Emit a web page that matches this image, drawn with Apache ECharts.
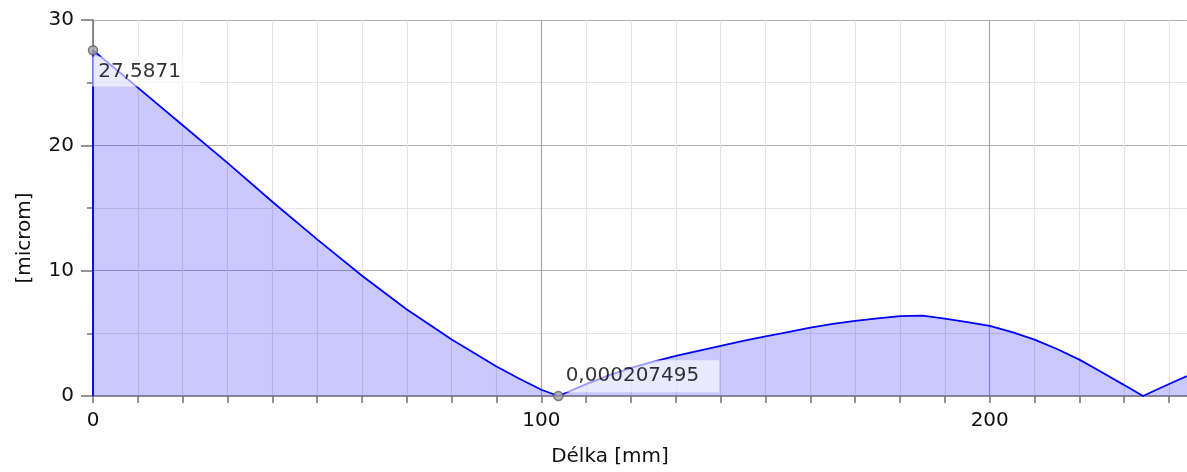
<!DOCTYPE html>
<html>
<head>
<meta charset="utf-8">
<script src="https://cdn.jsdelivr.net/npm/echarts@6/dist/echarts.min.js"></script>
<style>
html,body{margin:0;padding:0;background:#fff;}
#chart{width:1187px;height:472px;}
</style>
</head>
<body>
<div id="chart"></div>
<script>
// Profile data
const xValues = [0, 0, 10, 20, 30, 40, 50, 60, 70, 80, 90, 95, 100, 103.8, 110, 115, 120, 125, 130, 135, 140, 145, 150, 155, 160, 165, 170, 175, 180, 185, 190, 195, 200, 205, 210, 215, 220, 225, 230, 234.2, 239, 244];
const yValues = [0, 27.5871, 24.6, 21.6, 18.6, 15.5, 12.5, 9.6, 6.9, 4.5, 2.35, 1.4, 0.5, 0.000207495, 0.95, 1.65, 2.25, 2.75, 3.2, 3.6, 4.0, 4.4, 4.75, 5.1, 5.45, 5.75, 6.0, 6.2, 6.38, 6.42, 6.17, 5.9, 5.6, 5.1, 4.5, 3.75, 2.9, 1.9, 0.87, 0, 0.8, 1.6];
// Marked points
const markX = [0, 103.8];
const markY = [27.5871, 0.000207495];
const markText = ['27,5871', '0,000207495'];
const xTickLabels = [0, 100, 200];
const yTickLabels = [0, 10, 20, 30];
const xName = 'Délka [mm]';
const yName = '[microm]';

const FONT = 'DejaVu Sans';
const lineData = xValues.map((x, i) => [x, yValues[i]]);
const labelPos = [[4.5, 11.5], [8.5, -30.5]];
const labelPad = [[3, 19, 3, 6], [4, 20, 4, 4]];
const markData = markX.map((x, i) => ({
  value: [x, markY[i]],
  label: {
    show: true,
    formatter: markText[i],
    position: labelPos[i],
    padding: labelPad[i],
    backgroundColor: 'rgba(255,255,255,0.75)',
    color: '#000',
    fontFamily: FONT,
    fontSize: 20,
    lineHeight: 24
  }
}));

const xColors = ['#a8a8a8'].concat(Array(9).fill('#e4e4e4'));

const chart = echarts.init(document.getElementById('chart'), null, {renderer: 'canvas'});
chart.setOption({
  animation: false,
  grid: {left: 93, right: 0, top: 20, bottom: 74, containLabel: false},
  xAxis: {
    type: 'value', min: 0, max: 244, interval: 10,
    name: xName, nameLocation: 'middle', nameGap: 51,
    nameTextStyle: {fontFamily: FONT, fontSize: 20, color: '#111', padding: [0, 60, 0, 0]},
    axisLine: {show: true, lineStyle: {color: '#808080', width: 1.5}},
    axisTick: {show: true, length: 7, lineStyle: {color: '#707070', width: 1.5}},
    axisLabel: {
      margin: 15, fontFamily: FONT, fontSize: 20, color: '#111',
      showMaxLabel: false,
      formatter: v => (xTickLabels.indexOf(v) >= 0 ? String(v) : '')
    },
    splitLine: {show: true, lineStyle: {color: xColors, width: 1.2}}
  },
  yAxis: {
    type: 'value', min: 0, max: 30, interval: 10,
    name: yName, nameLocation: 'middle', nameGap: 58,
    nameTextStyle: {fontFamily: FONT, fontSize: 20, color: '#111', padding: [0, 60, 0, 0]},
    axisLine: {show: true, lineStyle: {color: '#707070', width: 1.5}},
    axisTick: {show: true, length: 12, lineStyle: {color: '#707070', width: 1.5}},
    minorTick: {show: true, splitNumber: 2, length: 6, lineStyle: {color: '#707070', width: 1.5}},
    axisLabel: {
      margin: 19, fontFamily: FONT, fontSize: 20, color: '#111',
      formatter: v => (yTickLabels.indexOf(v) >= 0 ? String(v) : '')
    },
    splitLine: {show: true, lineStyle: {color: '#b0b0b0', width: 1.2}},
    minorSplitLine: {show: true, lineStyle: {color: '#e4e4e4', width: 1.2}}
  },
  series: [
    {
      type: 'line', data: lineData, showSymbol: false, symbol: 'none',
      lineStyle: {color: '#0000ff', width: 1.8},
      areaStyle: {color: 'rgba(0,0,255,0.21)', opacity: 1, origin: 'start'},
      z: 2
    },
    {
      type: 'scatter', data: markData, symbol: 'circle', symbolSize: 9,
      itemStyle: {color: '#a8a8a8', borderColor: '#606060', borderWidth: 1.5},
      z: 5
    }
  ]
});
</script>
</body>
</html>
